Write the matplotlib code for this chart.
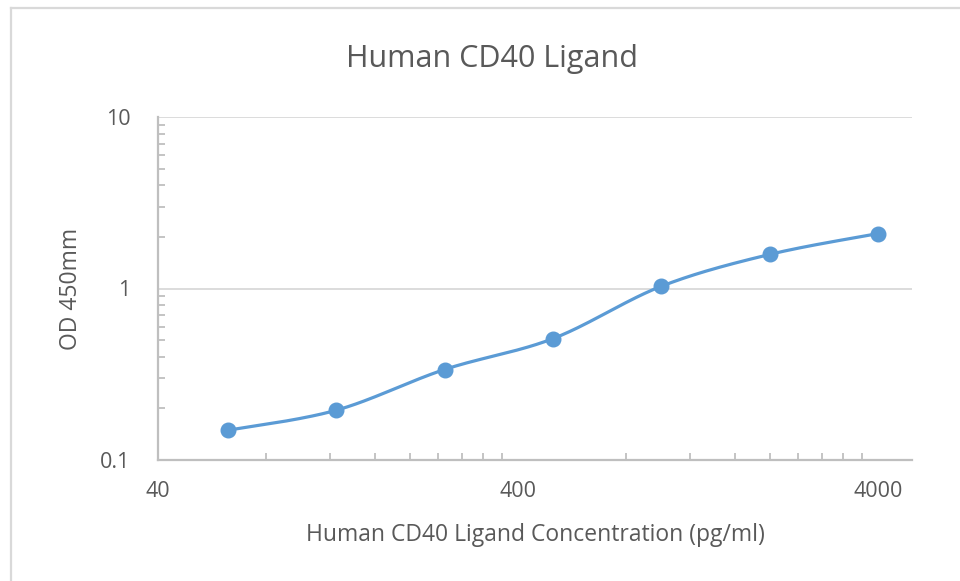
import matplotlib
matplotlib.use("Agg")
import matplotlib.pyplot as plt
from matplotlib.lines import Line2D
from matplotlib.ticker import FixedLocator, NullFormatter
import numpy as np

# standard curve data
conc = [62.5, 125, 250, 500, 1000, 2000, 4000]
od = [0.149, 0.195, 0.337, 0.51, 1.03, 1.58, 2.09]

x_ticks = [40, 400, 4000]
x_labels = ["40", "400", "4000"]
y_ticks = [0.1, 1, 10]
y_labels = ["0.1", "1", "10"]

text_col = "#595959"
axis_col = "#BFBFBF"
grid_col = "#D9D9D9"
line_col = "#5B9BD5"

plt.rcParams['font.family'] = ['Open Sans', 'DejaVu Sans']


def smooth(xs, ys, n=40):
    # excel-like bezier smoothing, done in log space
    lx = np.log10(xs)
    ly = np.log10(ys)
    pts = np.column_stack([lx, ly])
    out = []
    for i in range(len(pts) - 1):
        p0 = pts[i - 1] if i > 0 else pts[i]
        p1 = pts[i]
        p2 = pts[i + 1]
        p3 = pts[i + 2] if i + 2 < len(pts) else pts[i + 1]
        c1 = p1 + (p2 - p0) / 6
        c2 = p2 - (p3 - p1) / 6
        t = np.linspace(0, 1, n)[:, None]
        seg = ((1 - t) ** 3) * p1 + 3 * ((1 - t) ** 2) * t * c1 + 3 * (1 - t) * t ** 2 * c2 + t ** 3 * p2
        out.append(seg)
    out = np.vstack(out)
    return 10 ** out[:, 0], 10 ** out[:, 1]


fig = plt.figure(figsize=(9.6, 5.81), dpi=100)
ax = fig.add_axes([158 / 960, 1 - 460 / 581, (912 - 158) / 960, (460 - 117) / 581])

ax.set_xscale("log")
ax.set_yscale("log")
ax.set_xlim(40, 4000 * 10 ** (34 / 360))
ax.set_ylim(0.1, 10)

sx, sy = smooth(conc, od)
ax.plot(sx, sy, color=line_col, lw=2.3, solid_capstyle="round", zorder=3)
ax.plot(conc, od, "o", color=line_col, ms=10.5, zorder=4)

# ticks
ax.xaxis.set_major_locator(FixedLocator(x_ticks))
ax.xaxis.set_minor_locator(FixedLocator([40 * k for k in range(2, 10)] + [400 * k for k in range(2, 10)]))
ax.xaxis.set_minor_formatter(NullFormatter())
ax.set_xticklabels(x_labels)
ax.yaxis.set_major_locator(FixedLocator(y_ticks))
ax.yaxis.set_minor_locator(FixedLocator([0.1 * k for k in range(2, 10)] + [k for k in range(2, 10)]))
ax.yaxis.set_minor_formatter(NullFormatter())
ax.set_yticklabels(y_labels)

ax.tick_params(axis="both", which="both", direction="in", color=axis_col, width=1.3, labelcolor=text_col, labelsize=15.5)
ax.tick_params(axis="both", which="major", length=0)
ax.tick_params(axis="both", which="minor", length=5)
ax.tick_params(axis="x", which="major", pad=15)
ax.tick_params(axis="y", which="major", pad=20)

for s in ["top", "right"]:
    ax.spines[s].set_visible(False)
for s in ["left", "bottom"]:
    ax.spines[s].set_color(axis_col)
    ax.spines[s].set_linewidth(1.6)

# horizontal gridlines only
for yv in [1, 10]:
    ax.axhline(yv, color=grid_col, lw=1.3, zorder=1)

ax.set_xlabel("Human CD40 Ligand Concentration (pg/ml)", color=text_col, fontsize=16.5, labelpad=15)
ax.set_ylabel("OD 450mm", color=text_col, fontsize=16.5, labelpad=12)
fig.text(492 / 960, 1 - 59 / 581, "Human CD40 Ligand", ha="center", va="center", color=text_col, fontsize=22)

# outer chart border (cut off on right and bottom)
fig.add_artist(Line2D([11 / 960, 11 / 960], [0, 1 - 8 / 581], color=grid_col, lw=1.6))
fig.add_artist(Line2D([11 / 960, 1], [1 - 8 / 581, 1 - 8 / 581], color=grid_col, lw=1.6))

fig.savefig("out.png", dpi=100)
